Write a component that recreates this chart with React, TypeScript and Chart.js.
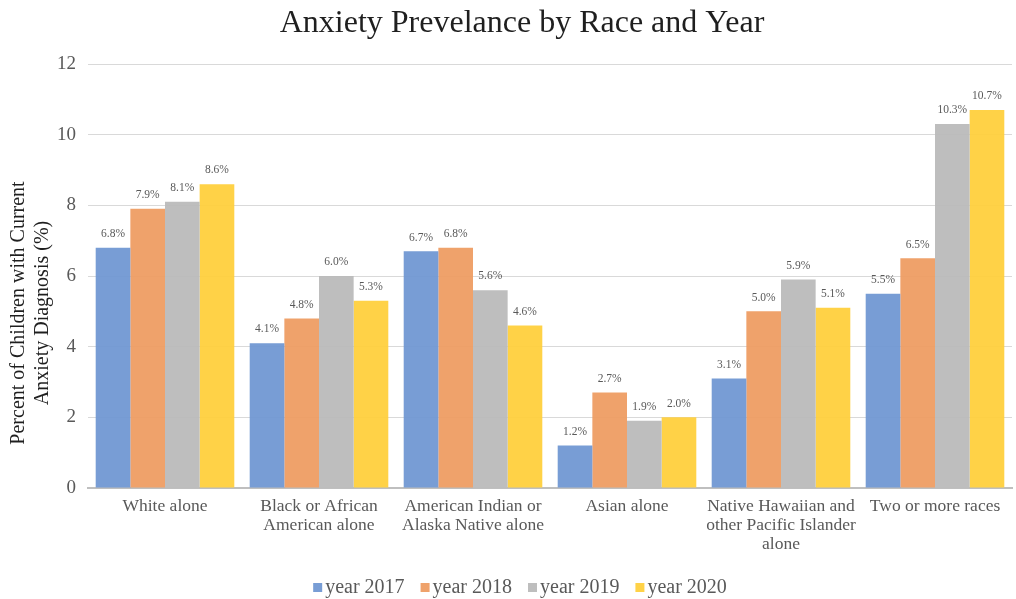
import React, { useEffect, useRef } from "react";
import { Chart, registerables } from "chart.js";

Chart.register(...registerables);

const categories: (string | string[])[] = [
  "White alone",
  ["Black or African", "American alone"],
  ["American Indian or", "Alaska Native alone"],
  "Asian alone",
  ["Native Hawaiian and", "other Pacific Islander", "alone"],
  "Two or more races",
];

const year2017 = [6.8, 4.1, 6.7, 1.2, 3.1, 5.5];
const year2018 = [7.9, 4.8, 6.8, 2.7, 5.0, 6.5];
const year2019 = [8.1, 6.0, 5.6, 1.9, 5.9, 10.3];
const year2020 = [8.6, 5.3, 4.6, 2.0, 5.1, 10.7];

const seriesNames = ["year 2017", "year 2018", "year 2019", "year 2020"];
const seriesColors = [
  "rgba(112,151,210,0.94)",
  "rgba(238,156,98,0.94)",
  "rgba(186,186,186,0.94)",
  "rgba(255,207,60,0.94)",
];

const yTicks = [0, 2, 4, 6, 8, 10, 12];

const chartTitle = "Anxiety Prevelance by Race and Year";
const yTitleLines = ["Percent of Children with Current", "Anxiety Diagnosis (%)"];

const SERIF = "'Liberation Serif', 'Times New Roman', serif";
const TEXT = "#595959";
const DARK = "#1f1f1f";

// Draws the percentage value above each bar.
const valueLabels = {
  id: "valueLabels",
  afterDatasetsDraw(chart: Chart) {
    const ctx = chart.ctx;
    ctx.save();
    ctx.font = `11.5px ${SERIF}`;
    ctx.fillStyle = TEXT;
    ctx.textAlign = "center";
    ctx.textBaseline = "bottom";
    chart.data.datasets.forEach((ds, i) => {
      const meta = chart.getDatasetMeta(i);
      meta.data.forEach((bar: any, j: number) => {
        const v = ds.data[j] as number;
        ctx.fillText(v.toFixed(1) + "%", bar.x, bar.y - 8);
      });
    });
    ctx.restore();
  },
};

// Chart heading, the two-line rotated y-axis caption and the legend row.
const decorations = {
  id: "decorations",
  afterDraw(chart: Chart) {
    const ctx = chart.ctx;
    ctx.save();
    ctx.fillStyle = DARK;
    ctx.textAlign = "center";
    ctx.textBaseline = "alphabetic";
    ctx.font = `32px ${SERIF}`;
    ctx.fillText(chartTitle, chart.width / 2 + 14, 32);

    ctx.save();
    ctx.textBaseline = "middle";
    ctx.font = `20px ${SERIF}`;
    ctx.translate(31, 313);
    ctx.rotate(-Math.PI / 2);
    yTitleLines.forEach((line, k) => {
      ctx.fillText(line, 0, (k - 0.5) * 24);
    });
    ctx.restore();

    // legend: square swatch, small gap, label
    ctx.font = `20px ${SERIF}`;
    ctx.textAlign = "left";
    const box = 9;
    const gapAfterBox = 3;
    const gapBetween = 16;
    const widths = seriesNames.map((n) => box + gapAfterBox + ctx.measureText(n).width);
    const total = widths.reduce((a, b) => a + b, 0) + gapBetween * (widths.length - 1);
    let x = chart.width / 2 + 12 - total / 2;
    const baseline = 593;
    seriesNames.forEach((name, i) => {
      ctx.fillStyle = seriesColors[i];
      ctx.fillRect(x, baseline - 10, box, box);
      ctx.fillStyle = TEXT;
      ctx.fillText(name, x + box + gapAfterBox, baseline);
      x += widths[i] + gapBetween;
    });
    ctx.restore();
  },
};

export default function App() {
  const ref = useRef<HTMLCanvasElement>(null);

  useEffect(() => {
    if (!ref.current) return;
    const chart = new Chart(ref.current, {
      type: "bar",
      data: {
        labels: categories,
        datasets: [year2017, year2018, year2019, year2020].map((d, i) => ({
          label: seriesNames[i],
          data: d,
          backgroundColor: seriesColors[i],
          borderWidth: 0,
          categoryPercentage: 0.9,
          barPercentage: 1.0,
        })),
      },
      options: {
        animation: false,
        responsive: true,
        maintainAspectRatio: false,
        layout: { padding: { top: 64, right: 4, left: 45, bottom: 36 } },
        plugins: {
          title: { display: false },
          legend: { display: false },
          tooltip: { enabled: false },
        },
        scales: {
          x: {
            grid: { display: false, drawTicks: false },
            border: { color: "#bfbfbf", width: 2 },
            afterFit: (scale: any) => {
              scale.height = 75;
            },
            ticks: {
              color: TEXT,
              font: { family: SERIF, size: 17.5, lineHeight: 1.08 },
              padding: 9,
              maxRotation: 0,
              autoSkip: false,
            },
          },
          y: {
            min: 0,
            max: 12,
            afterBuildTicks: (axis: any) => {
              axis.ticks = yTicks.map((v) => ({ value: v }));
            },
            grid: { color: "#d9d9d9", lineWidth: 1, drawTicks: false },
            border: { display: false },
            ticks: {
              color: TEXT,
              font: { family: SERIF, size: 19 },
              padding: 12,
            },
          },
        },
      },
      plugins: [valueLabels, decorations],
    });
    return () => chart.destroy();
  }, []);

  return (
    <div style={{ position: "fixed", left: 0, top: 0, width: 1016, height: 599, background: "#fff" }}>
      <canvas ref={ref} />
    </div>
  );
}
